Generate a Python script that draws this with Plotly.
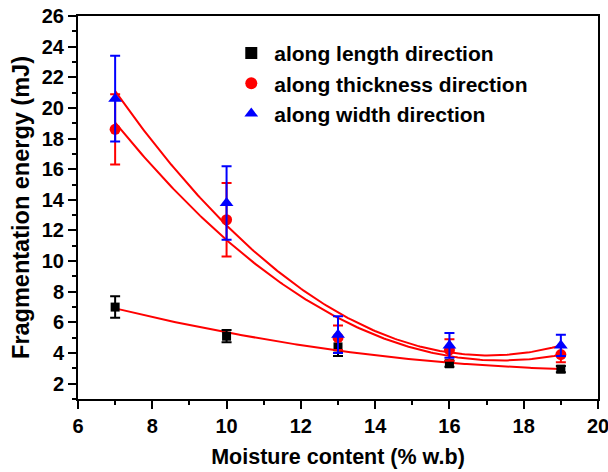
import numpy as np
import plotly.graph_objects as go

# Moisture content (% w.b)
moisture = [7, 10, 13, 16, 19]

# Fragmentation energy (mJ) and standard deviations
length_mean = [7.0, 5.1, 4.4, 3.3, 2.95]
length_sd = [0.7, 0.4, 0.6, 0.2, 0.2]

thickness_mean = [18.6, 12.7, 5.0, 4.2, 3.9]
thickness_sd = [2.3, 2.4, 0.8, 0.7, 0.5]

width_mean = [20.6, 13.8, 5.2, 4.5, 4.5]
width_sd = [2.8, 2.4, 1.2, 0.8, 0.7]

x_ticks = [6, 8, 10, 12, 14, 16, 18, 20]
y_ticks = [2, 4, 6, 8, 10, 12, 14, 16, 18, 20, 22, 24, 26]

FONT = "Liberation Sans, Arial, sans-serif"

series = [
    ("along length direction", length_mean, length_sd, "black", "square", 9),
    ("along thickness direction", thickness_mean, thickness_sd, "#ff0000", "circle", 11),
    ("along width direction", width_mean, width_sd, "#0000ff", "triangle-up", 12),
]

fig = go.Figure()

# Second-order polynomial fit for each direction
x_fit = np.linspace(min(moisture), max(moisture), 200)
for _, mean, _, _, _, _ in series:
    coef = np.polyfit(moisture, mean, 2)
    fig.add_trace(go.Scatter(
        x=x_fit, y=np.polyval(coef, x_fit), mode="lines",
        line=dict(color="#ff0000", width=2), showlegend=False, hoverinfo="skip",
    ))

for name, mean, sd, color, symbol, size in series:
    fig.add_trace(go.Scatter(
        x=moisture, y=mean, mode="markers", name=name,
        marker=dict(color=color, symbol=symbol, size=size, line=dict(width=0)),
        error_y=dict(type="data", array=sd, visible=True, color=color,
                     thickness=2, width=5),
    ))

axis_common = dict(
    showline=True, linecolor="black", linewidth=2, mirror=True,
    ticks="outside", ticklen=8, tickwidth=2, tickcolor="black",
    showgrid=False, zeroline=False, automargin=False,
    ticklabeloverflow="allow",
    tickfont=dict(family=FONT, size=20, color="black", weight="bold"),
    minor=dict(ticks="outside", ticklen=4, tickwidth=2, tickcolor="black", dtick=1),
)

fig.update_layout(
    width=608, height=472,
    margin=dict(l=78, r=10, t=16, b=73),
    plot_bgcolor="white", paper_bgcolor="white",
    xaxis=dict(range=[6, 20], tickvals=x_ticks,
               title=dict(text="Moisture content (% w.b)", standoff=13,
                          font=dict(family=FONT, size=21.5, color="black", weight="bold")),
               **axis_common),
    yaxis=dict(range=[1, 26], tickvals=y_ticks,
               title=dict(text="Fragmentation energy (mJ)", standoff=6,
                          font=dict(family=FONT, size=23.5, color="black", weight="bold")),
               **axis_common),
    legend=dict(x=0.289, y=0.956, xanchor="left", yanchor="top",
                bgcolor="rgba(0,0,0,0)", itemsizing="constant", itemwidth=36,
                font=dict(family=FONT, size=21, color="black", weight="bold")),
)

fig.write_html("out.html")
